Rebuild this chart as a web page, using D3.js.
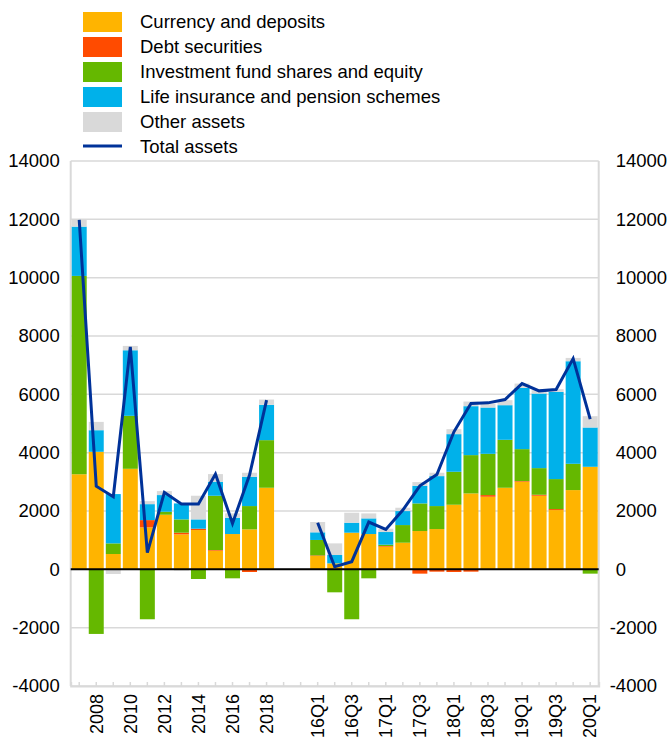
<!DOCTYPE html>
<html>
<head>
<meta charset="utf-8">
<script src="https://cdn.jsdelivr.net/npm/d3@7"></script>
<style>
  body { margin: 0; background: #fff; }
  svg { display: block; font-family: "Liberation Sans", Arial, sans-serif; }
</style>
</head>
<body>
<svg id="chart" width="671" height="738"></svg>
<script>
// ---- Data ----
const annualCats = ["2007","2008","2009","2010","2011","2012","2013","2014","2015","2016","2017","2018"];
const quarterCats = ["16Q1","16Q2","16Q3","16Q4","17Q1","17Q2","17Q3","17Q4","18Q1","18Q2","18Q3","18Q4","19Q1","19Q2","19Q3","19Q4","20Q1"];
const gapCats = ["gap1","gap2"];

const currencyAnnual = [3260, 4030, 525, 3447, 1438, 1872, 1199, 1347, 639, 1210, 1370, 2797];
const debtAnnual     = [0, 0, 0, 0, 250, 0, 57, 46, 23, 0, -91, 0];
const investAnnual   = [6800, -2215, 365, 1816, -1712, 103, 456, -331, 1861, -308, 799, 1632];
const lifeAnnual     = [1690, 740, 1690, 2248, 547, 571, 548, 319, 479, 559, 1005, 1210];
const otherAnnual    = [228, 285, -160, 149, 103, 137, -40, 811, 263, 149, 137, 183];
const totalAnnual    = [11980, 2850, 2490, 7625, 570, 2640, 2237, 2237, 3265, 1575, 3231, 5800];

const currencyQuarter = [457, 205, 1256, 1210, 776, 913, 1313, 1381, 2215, 2603, 2489, 2797, 3002, 2523, 2032, 2717, 3516];
const debtQuarter     = [20, 0, 0, 0, 23, 0, -148, -80, -91, -80, 57, 0, 23, 34, 34, 0, 0];
const investQuarter   = [530, -788, -1712, -308, 46, 605, 947, 788, 1130, 1313, 1415, 1644, 1096, 913, 1028, 902, -148];
const lifeQuarter     = [262, 286, 342, 537, 434, 480, 605, 1027, 1290, 1678, 1587, 1187, 2100, 2557, 2990, 3516, 1347];
const otherQuarter    = [354, 399, 343, 171, 114, 114, 126, 115, 171, 159, 137, 171, 149, 115, 92, 114, 388];
const totalQuarter    = [1598, 91, 263, 1621, 1370, 2032, 2865, 3253, 4715, 5685, 5708, 5822, 6370, 6119, 6164, 7226, 5148];

const seriesNames = ["Currency and deposits","Debt securities","Investment fund shares and equity","Life insurance and pension schemes","Other assets"];
const seriesKeys = ["currency","debt","invest","life","other"];
const seriesColors = ["#FFB400","#FF4B00","#65B800","#00B1EA","#D9D9D9"];
const lineName = "Total assets";
const lineColor = "#003299";

const yTicks = [-4000,-2000,0,2000,4000,6000,8000,10000,12000,14000];
const xLabels = ["2008","2010","2012","2014","2016","2018","16Q1","16Q3","17Q1","17Q3","18Q1","18Q3","19Q1","19Q3","20Q1"];

// ---- Build table ----
const rows = [];
annualCats.forEach((c,i) => rows.push({cat:c, currency:currencyAnnual[i], debt:debtAnnual[i], invest:investAnnual[i], life:lifeAnnual[i], other:otherAnnual[i]}));
quarterCats.forEach((c,i) => rows.push({cat:c, currency:currencyQuarter[i], debt:debtQuarter[i], invest:investQuarter[i], life:lifeQuarter[i], other:otherQuarter[i]}));
const allCats = annualCats.concat(gapCats, quarterCats);

// ---- Layout ----
const plotL = 70.7, plotR = 598.7, plotT = 161, plotB = 686;
const FS = 18.5;
const svg = d3.select("#chart");

const x = d3.scaleBand().domain(allCats).range([plotL, plotR]).paddingInner(0.12).paddingOuter(0.06);
const y = d3.scaleLinear().domain([-4000, 14000]).range([plotB, plotT]);

// gridlines
svg.append("g").selectAll("line").data(yTicks).join("line")
  .attr("x1", plotL).attr("x2", plotR)
  .attr("y1", d => y(d)).attr("y2", d => y(d))
  .attr("stroke", "#d9d9d9").attr("stroke-width", 1.5);

// vertical frame lines
svg.append("line").attr("x1", plotL).attr("x2", plotL).attr("y1", plotT).attr("y2", plotB)
  .attr("stroke", "#d9d9d9").attr("stroke-width", 2);
svg.append("line").attr("x1", plotR).attr("x2", plotR).attr("y1", plotT).attr("y2", plotB)
  .attr("stroke", "#d9d9d9").attr("stroke-width", 2);

// stacked bars
const stack = d3.stack().keys(seriesKeys).offset(d3.stackOffsetDiverging);
const stacked = stack(rows);
svg.append("g").selectAll("g").data(stacked).join("g")
  .attr("fill", (d,i) => seriesColors[i])
  .selectAll("rect").data(d => d).join("rect")
  .attr("x", d => x(d.data.cat))
  .attr("width", x.bandwidth())
  .attr("y", d => y(Math.max(d[0], d[1])))
  .attr("height", d => Math.abs(y(d[0]) - y(d[1])));

// zero line
svg.append("line").attr("x1", plotL).attr("x2", plotR).attr("y1", y(0)).attr("y2", y(0))
  .attr("stroke", "#000").attr("stroke-width", 2);

// total lines (two separate segments)
const line = d3.line().x(d => x(d.cat) + x.bandwidth()/2).y(d => y(d.v));
const annualLine = annualCats.map((c,i) => ({cat:c, v:totalAnnual[i]}));
const quarterLine = quarterCats.map((c,i) => ({cat:c, v:totalQuarter[i]}));
svg.append("g").selectAll("path").data([annualLine, quarterLine]).join("path")
  .attr("d", line).attr("fill", "none").attr("stroke", lineColor).attr("stroke-width", 3)
  .attr("stroke-linejoin", "miter");

// left axis
const fmt = d => String(d);
const leftAxis = svg.append("g").attr("transform", `translate(${plotL},0)`)
  .call(d3.axisLeft(y).tickValues(yTicks).tickSize(0).tickPadding(11).tickFormat(fmt));
leftAxis.select(".domain").remove();
leftAxis.selectAll("text").attr("font-size", FS).attr("fill", "#000").attr("font-family", "Liberation Sans, Arial, sans-serif");

// right axis
const rightAxis = svg.append("g").attr("transform", `translate(${plotR},0)`)
  .call(d3.axisRight(y).tickValues(yTicks).tickSize(0).tickPadding(17).tickFormat(fmt));
rightAxis.select(".domain").remove();
rightAxis.selectAll("text").attr("font-size", FS).attr("fill", "#000").attr("font-family", "Liberation Sans, Arial, sans-serif")
  .attr("dx", d => d < 0 ? -6 : 0);

// bottom axis
const bottomAxis = svg.append("g").attr("transform", `translate(0,${plotB})`)
  .call(d3.axisBottom(x).tickSize(-4).tickFormat(d => xLabels.includes(d) ? d : ""));
bottomAxis.select(".domain").attr("stroke", "#d9d9d9").attr("stroke-width", 2);
bottomAxis.selectAll(".tick line").attr("stroke", "#d9d9d9").attr("stroke-width", 1.5);
bottomAxis.selectAll("text")
  .attr("transform", "rotate(-90)")
  .attr("x", -8).attr("y", 0).attr("dy", "0.35em")
  .attr("text-anchor", "end")
  .attr("font-size", 18).attr("fill", "#000").attr("font-family", "Liberation Sans, Arial, sans-serif");

// legend
const legend = svg.append("g");
const legendItems = seriesNames.map((n,i) => ({name:n, color:seriesColors[i], type:"rect"}))
  .concat([{name:lineName, color:lineColor, type:"line"}]);
legendItems.forEach((d,i) => {
  const cy = 22 + 25*i;
  if (d.type === "rect") {
    legend.append("rect").attr("x", 83).attr("y", cy - 10).attr("width", 39).attr("height", 20).attr("fill", d.color);
  } else {
    legend.append("line").attr("x1", 83).attr("x2", 122).attr("y1", cy - 1).attr("y2", cy - 1)
      .attr("stroke", d.color).attr("stroke-width", 3);
  }
  legend.append("text").attr("x", 140).attr("y", cy).attr("dy", "0.35em")
    .attr("font-size", FS).attr("fill", "#000").text(d.name);
});
</script>
</body>
</html>
